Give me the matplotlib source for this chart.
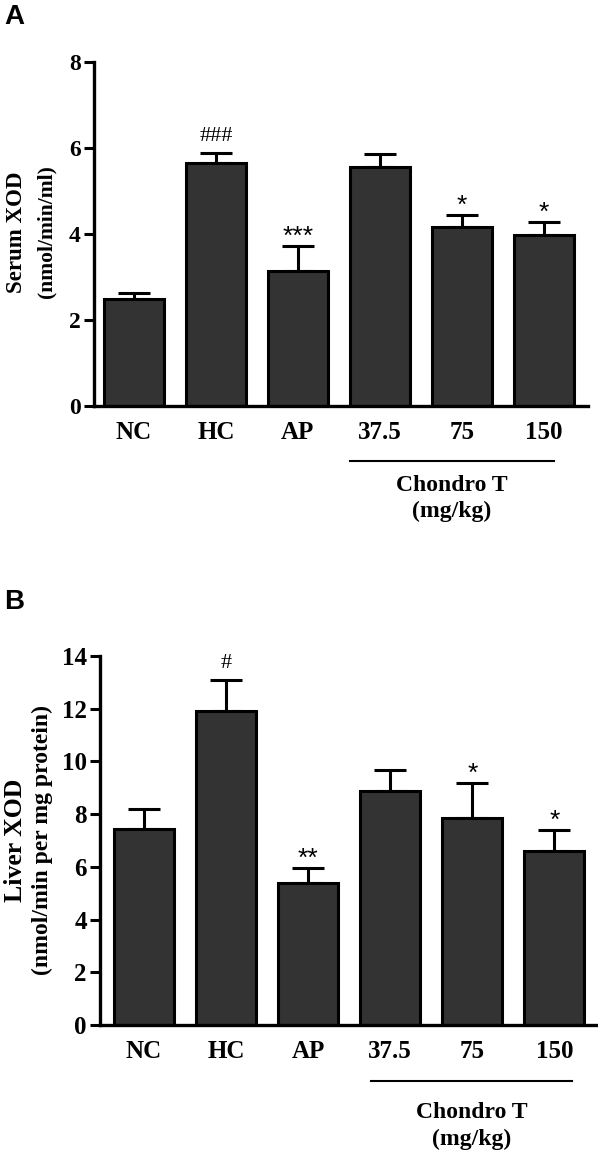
import matplotlib.pyplot as plt
from matplotlib.transforms import blended_transform_factory

plt.rcParams['font.family'] = ['Liberation Serif', 'DejaVu Serif']
plt.rcParams['font.weight'] = 'bold'

groups = ["NC", "HC", "AP", "37.5", "75", "150"]
serum_mean = [2.50, 5.65, 3.15, 5.55, 4.16, 3.98]
serum_err = [0.12, 0.23, 0.57, 0.31, 0.28, 0.31]
serum_marks = ["", "###", "***", "", "*", "*"]
liver_mean = [7.45, 11.93, 5.37, 8.86, 7.87, 6.59]
liver_err = [0.75, 1.16, 0.59, 0.83, 1.33, 0.82]
liver_marks = ["", "#", "**", "", "*", "*"]

W, H = 598, 1150
fig = plt.figure(figsize=(W / 100, H / 100), dpi=100)


def axes_px(left, top, right, bottom):
    return fig.add_axes([left / W, 1 - bottom / H, (right - left) / W, (bottom - top) / H])


def draw_panel(ax, means, errs, marks, ymax, xlim, ax_h, offs, fs):
    x = list(range(len(groups)))
    ax.errorbar(x, means, yerr=[[0] * len(errs), errs], fmt='none', ecolor='black',
                elinewidth=2.2, capsize=11.5, capthick=2.2, zorder=1)
    ax.bar(x, means, width=0.73, color='#333333', edgecolor='black', linewidth=2.2, zorder=2)
    for xi, m, e, s in zip(x, means, errs, marks):
        if not s:
            continue
        if s.startswith('#'):
            ax.annotate(s, (xi, m + e), xytext=(0, 8.5), textcoords='offset points',
                        ha='center', va='baseline', fontsize=16, fontweight='normal')
        else:
            ax.annotate(s, (xi, m + e), xytext=(0, 1.5), textcoords='offset points',
                        ha='center', va='baseline', fontsize=19, fontweight='normal',
                        family='Liberation Sans')
    ax.set_xlim(*xlim)
    ax.set_ylim(0, ymax)
    ax.set_yticks(range(0, ymax + 1, 2))
    ax.set_xticks(x)
    ax.set_xticklabels(groups, fontsize=18, fontweight='bold')
    ax.tick_params(axis='x', length=0, pad=11)
    ax.tick_params(axis='y', direction='out', length=7.5, width=2.2, labelsize=fs, pad=2)
    for lbl in ax.get_yticklabels():
        lbl.set_fontweight('bold')
    for sp in ['top', 'right']:
        ax.spines[sp].set_visible(False)
    for sp in ['left', 'bottom']:
        ax.spines[sp].set_linewidth(2.4)
    ax.patch.set_alpha(0)

    # Chondro T dose group bracket
    tr = blended_transform_factory(ax.transData, ax.transAxes)
    x0, x1, line_off, t1_off, t2_off = offs
    ax.plot([x0, x1], [-line_off / ax_h] * 2, color='black', lw=1.5,
            transform=tr, clip_on=False)
    xc = (x0 + x1) / 2
    ax.text(xc, -t1_off / ax_h, "Chondro T", transform=tr, ha='center', va='baseline',
            fontsize=17, fontweight='bold')
    ax.text(xc, -t2_off / ax_h, "(mg/kg)", transform=tr, ha='center', va='baseline',
            fontsize=17, fontweight='bold')


axA = axes_px(94, 62, 588, 406)
draw_panel(axA, serum_mean, serum_err, serum_marks, 8, (-0.488, 5.54), 344,
           (2.63, 5.13, 55, 85, 111), 17)
axB = axes_px(100, 656, 597, 1025)
draw_panel(axB, liver_mean, liver_err, liver_marks, 14, (-0.537, 5.52), 369,
           (2.76, 5.22, 56, 93, 120), 18)

fig.text(17 / W, 1 - 232 / H, "Serum XOD", rotation=90, ha='center', va='center',
         fontsize=16.5, fontweight='bold')
fig.text(46 / W, 1 - 232 / H, "(nmol/min/ml)", rotation=90, ha='center', va='center',
         fontsize=15.5, fontweight='bold')
fig.text(16 / W, 1 - 840 / H, "Liver XOD", rotation=90, ha='center', va='center',
         fontsize=18.5, fontweight='bold')
fig.text(42 / W, 1 - 840 / H, "(nmol/min per mg protein)", rotation=90, ha='center',
         va='center', fontsize=17, fontweight='bold')

fig.text(4 / W, 1 - 4 / H, "A", ha='left', va='top', fontsize=20, fontweight='bold',
         family='Liberation Sans')
fig.text(4 / W, 1 - 589 / H, "B", ha='left', va='top', fontsize=20, fontweight='bold',
         family='Liberation Sans')

fig.savefig('out.png', dpi=100)
